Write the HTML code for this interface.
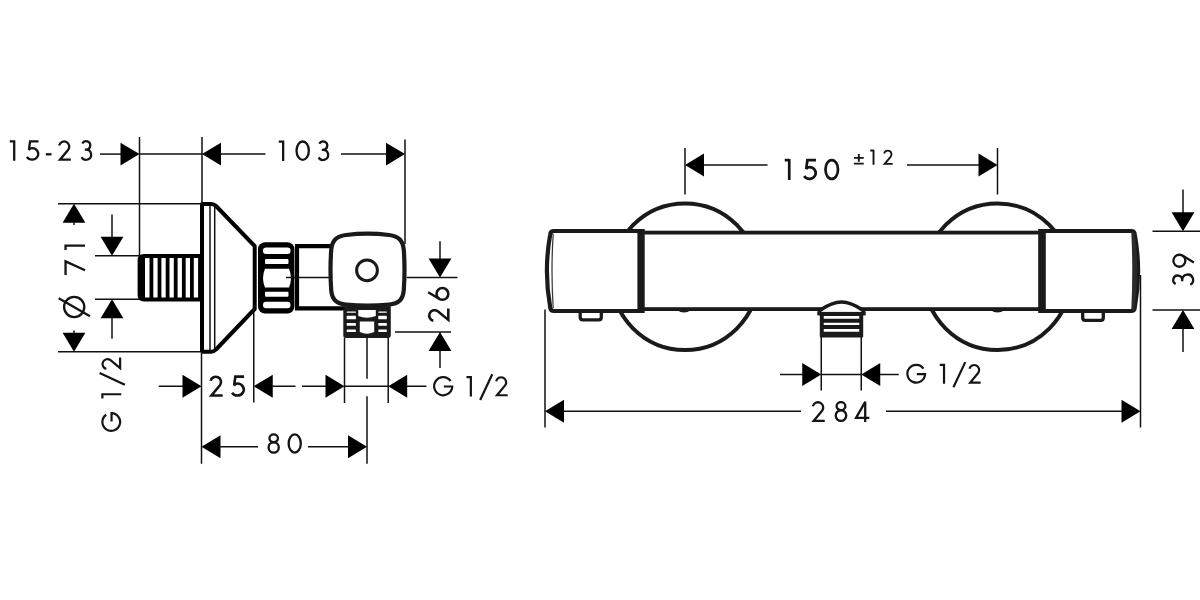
<!DOCTYPE html>
<html><head><meta charset="utf-8"><title>Dimension drawing</title>
<style>
html,body{margin:0;padding:0;background:#fff;}
body{width:1200px;height:600px;overflow:hidden;}
svg{display:block;}
text{font-family:"Liberation Sans",sans-serif;fill:#111;stroke:#fff;stroke-width:0.7px;}
</style></head><body>
<svg width="1200" height="600" viewBox="0 0 1200 600">
<rect width="1200" height="600" fill="#fff"/>
<line x1="139.5" y1="137" x2="139.5" y2="256" stroke="#111" stroke-width="1.5"/>
<line x1="202" y1="137" x2="202" y2="204" stroke="#111" stroke-width="1.5"/>
<line x1="405" y1="139.5" x2="405" y2="244" stroke="#111" stroke-width="1.5"/>
<line x1="100" y1="154.1" x2="122" y2="154.1" stroke="#111" stroke-width="1.5"/>
<polygon points="139.5,154.1 120.5,142.7 120.5,165.5" fill="#000"/>
<line x1="139.5" y1="154.1" x2="202" y2="154.1" stroke="#111" stroke-width="1.5"/>
<polygon points="202,154.1 221,142.7 221,165.5" fill="#000"/>
<line x1="220" y1="154.1" x2="265.5" y2="154.1" stroke="#111" stroke-width="1.5"/>
<line x1="341" y1="154.1" x2="387" y2="154.1" stroke="#111" stroke-width="1.5"/>
<polygon points="405,154.1 386,142.7 386,165.5" fill="#000"/>
<g transform="translate(9.8,160.8) scale(1.0000)" fill="none" stroke="#141414" stroke-width="2.300" stroke-miterlimit="3"><path d="M0,-19.45 H4.4 M4.4,-20.6 V0"/></g>
<g transform="translate(25.4,160.8) scale(1.0000)" fill="none" stroke="#141414" stroke-width="2.300" stroke-miterlimit="3"><path d="M13.1,-19.45 H4.7 L3.5,-10.8 C4.5,-12 5.6,-12.7 6.7,-12.7 A6.1,5.8 0 1 1 1.53,-3.83"/></g>
<g transform="translate(45.8,160.8) scale(1.0000)" fill="none" stroke="#141414" stroke-width="2.300" stroke-miterlimit="3"><path d="M0,-6.5 H5.7"/></g>
<g transform="translate(58,160.8) scale(1.0000)" fill="none" stroke="#141414" stroke-width="2.300" stroke-miterlimit="3"><path d="M1.2,-15.4 A5.1,5.1 0 1 1 10.2,-11.1 L2.0,-1.15 H12.8"/></g>
<g transform="translate(80,160.8) scale(1.0000)" fill="none" stroke="#141414" stroke-width="2.300" stroke-miterlimit="3"><path d="M2.3,-17.3 A4.2,4.2 0 1 1 6,-11.2 H4.8 M6,-11.2 A5.1,5.1 0 1 1 1.6,-3.6"/></g>
<g transform="translate(278.75,161) scale(1.0000)" fill="none" stroke="#141414" stroke-width="2.300" stroke-miterlimit="3"><path d="M0,-19.45 H4.4 M4.4,-20.6 V0"/></g>
<g transform="translate(295.4,161) scale(1.0000)" fill="none" stroke="#141414" stroke-width="2.300" stroke-miterlimit="3"><ellipse cx="7.3" cy="-10.3" rx="6.15" ry="9.2"/></g>
<g transform="translate(317,161) scale(1.0000)" fill="none" stroke="#141414" stroke-width="2.300" stroke-miterlimit="3"><path d="M2.3,-17.3 A4.2,4.2 0 1 1 6,-11.2 H4.8 M6,-11.2 A5.1,5.1 0 1 1 1.6,-3.6"/></g>
<line x1="58" y1="203.75" x2="202" y2="203.75" stroke="#111" stroke-width="1.5"/>
<line x1="58" y1="351.75" x2="202" y2="351.75" stroke="#111" stroke-width="1.5"/>
<polygon points="74,203.75 62.6,222.75 85.4,222.75" fill="#000"/>
<line x1="74" y1="222" x2="74" y2="225" stroke="#111" stroke-width="1.5"/>
<polygon points="74,351.75 62.6,332.75 85.4,332.75" fill="#000"/>
<line x1="74" y1="330.5" x2="74" y2="334" stroke="#111" stroke-width="1.5"/>
<line x1="95" y1="255.75" x2="139" y2="255.75" stroke="#111" stroke-width="1.5"/>
<line x1="95" y1="299.25" x2="139" y2="299.25" stroke="#111" stroke-width="1.5"/>
<line x1="112" y1="214.5" x2="112" y2="238" stroke="#111" stroke-width="1.5"/>
<polygon points="112,255.75 100.6,236.75 123.4,236.75" fill="#000"/>
<polygon points="112,299.25 100.6,318.25 123.4,318.25" fill="#000"/>
<line x1="112" y1="317" x2="112" y2="338.75" stroke="#111" stroke-width="1.5"/>
<g transform="translate(85,318) rotate(-90) scale(1.0000)" fill="none" stroke="#141414" stroke-width="2.300" stroke-miterlimit="3"><circle cx="11" cy="-10.8" r="10.1"/><path d="M1.7,5 L19.7,-26.3"/></g>
<g transform="translate(85,274.9) rotate(-90) scale(1.0000)" fill="none" stroke="#141414" stroke-width="2.300" stroke-miterlimit="3"><path d="M0,-19.45 H13.5 L4.6,0"/></g>
<g transform="translate(85,250) rotate(-90) scale(1.0000)" fill="none" stroke="#141414" stroke-width="2.300" stroke-miterlimit="3"><path d="M0,-19.45 H4.4 M4.4,-20.6 V0"/></g>
<g transform="translate(121.25,432) rotate(-90) scale(0.9700)" fill="none" stroke="#141414" stroke-width="2.268" stroke-miterlimit="3"><path d="M17.8,-15.55 A9.15,9.15 0 1 0 19.45,-10 H10.9"/></g>
<g transform="translate(121.25,398.5) rotate(-90) scale(0.9700)" fill="none" stroke="#141414" stroke-width="2.268" stroke-miterlimit="3"><path d="M0,-19.45 H4.4 M4.4,-20.6 V0"/></g>
<g transform="translate(121.25,385.6) rotate(-90) scale(0.9700)" fill="none" stroke="#141414" stroke-width="2.268" stroke-miterlimit="3"><path d="M0.8,3.7 L13.0,-22.3"/></g>
<g transform="translate(121.25,370) rotate(-90) scale(0.9700)" fill="none" stroke="#141414" stroke-width="2.268" stroke-miterlimit="3"><path d="M1.2,-15.4 A5.1,5.1 0 1 1 10.2,-11.1 L2.0,-1.15 H12.8"/></g>
<path d="M202,256 H144 Q139.5,256 139.5,260.5 V295 Q139.5,299.5 144,299.5 H202" fill="#fff" stroke="#000" stroke-width="3.8"/>
<rect x="139" y="257" width="6" height="41" fill="#000"/>
<rect x="149.50" y="257" width="3.8" height="41.5" fill="#000"/>
<rect x="157.60" y="257" width="3.8" height="41.5" fill="#000"/>
<rect x="165.70" y="257" width="3.8" height="41.5" fill="#000"/>
<rect x="173.80" y="257" width="3.8" height="41.5" fill="#000"/>
<rect x="181.90" y="257" width="3.8" height="41.5" fill="#000"/>
<rect x="190.00" y="257" width="3.8" height="41.5" fill="#000"/>
<rect x="198.10" y="257" width="3.8" height="41.5" fill="#000"/>
<path d="M202,352 V203.9 H211 Q214,203.9 216,206 L254.7,246 V309 L216,349.5 Q214,351.7 211,351.7 H202" fill="none" stroke="#000" stroke-width="4.0" stroke-linejoin="round"/>
<line x1="210" y1="205" x2="210" y2="351" stroke="#111" stroke-width="1.5"/>
<line x1="214.7" y1="206" x2="214.7" y2="350" stroke="#111" stroke-width="1.5"/>
<rect x="258" y="242.3" width="36.4" height="71.2" rx="7" fill="#000"/>
<rect x="263" y="247.5" width="27.5" height="6.5" rx="3" fill="#fff"/>
<rect x="265" y="259" width="23.5" height="5" rx="1" fill="#fff"/>
<path d="M265,268.7 H289 Q293,278 289,287.5 H265 Q261,278 265,268.7 Z" fill="#fff"/>
<rect x="265" y="291.7" width="23.5" height="5" rx="1" fill="#fff"/>
<rect x="263" y="301.7" width="27.5" height="6.5" rx="3" fill="#fff"/>
<path d="M333,246.2 H297 V308.4 H345" fill="none" stroke="#000" stroke-width="4.2"/>
<line x1="286" y1="277.5" x2="329" y2="277.5" stroke="#111" stroke-width="1.5"/>
<path d="M343.3,306.3 H390.8 V335.3 Q390.8,337.9 388,337.9 H346 Q343.3,337.9 343.3,335.3 Z" fill="#1a1a1a"/>
<rect x="346.7" y="311.5" width="9.2" height="1.1999999999999886" rx="0.5" fill="#fff"/>
<rect x="378.3" y="311.5" width="8.5" height="1.1999999999999886" rx="0.5" fill="#fff"/>
<rect x="346.7" y="315.8" width="9.2" height="3.3999999999999773" rx="0.5" fill="#fff"/>
<rect x="378.3" y="315.8" width="8.5" height="3.3999999999999773" rx="0.5" fill="#fff"/>
<rect x="346.7" y="323" width="9.2" height="2.8000000000000114" rx="0.5" fill="#fff"/>
<rect x="378.3" y="323" width="8.5" height="2.8000000000000114" rx="0.5" fill="#fff"/>
<rect x="346.7" y="329.5" width="9.2" height="2.5" rx="0.5" fill="#fff"/>
<rect x="378.3" y="329.5" width="8.5" height="2.5" rx="0.5" fill="#fff"/>
<path d="M358.3,310 H375.8 V316 Q367,319.5 358.3,316 Z" fill="#fff"/>
<path d="M359.8,321.4 H374.2 V332 Q367,335.4 359.8,332 Z" fill="#fff"/>
<path d="M346,235 Q367.5,232.4 389,235 C399,236.3 403,240.5 403.8,250 Q405.2,270 403.8,290 C403,299.5 399,303.6 389,304.6 Q367.5,306.6 346,304.6 C336,303.6 332,299.5 331.2,290 Q329.8,270 331.2,250 C332,240.5 336,236.3 346,235 Z" fill="#fff" stroke="#1a1a1a" stroke-width="4.2"/>
<circle cx="367" cy="270.3" r="10.4" fill="none" stroke="#1a1a1a" stroke-width="3"/>
<line x1="406.7" y1="277.5" x2="457.5" y2="277.5" stroke="#111" stroke-width="1.5"/>
<line x1="440" y1="241.25" x2="440" y2="260" stroke="#111" stroke-width="1.5"/>
<polygon points="440,277.5 428.6,258.5 451.4,258.5" fill="#000"/>
<line x1="395" y1="332" x2="451" y2="332" stroke="#111" stroke-width="1.5"/>
<polygon points="440,332 428.6,351 451.4,351" fill="#000"/>
<line x1="440" y1="350" x2="440" y2="368" stroke="#111" stroke-width="1.5"/>
<g transform="translate(449.5,322) rotate(-90) scale(1.0500)" fill="none" stroke="#141414" stroke-width="2.429" stroke-miterlimit="3"><path d="M1.2,-15.4 A5.1,5.1 0 1 1 10.2,-11.1 L2.0,-1.15 H12.8"/></g>
<g transform="translate(449.5,301.5) rotate(-90) scale(1.0500)" fill="none" stroke="#141414" stroke-width="2.429" stroke-miterlimit="3"><path d="M8.8,-20.3 L2.4,-9.55"/><circle cx="7.25" cy="-6.75" r="5.6"/></g>
<line x1="344.5" y1="337.5" x2="344.5" y2="403" stroke="#111" stroke-width="1.5"/>
<line x1="388.2" y1="337.5" x2="388.2" y2="403" stroke="#111" stroke-width="1.5"/>
<line x1="367" y1="337.5" x2="367" y2="378.75" stroke="#111" stroke-width="1.5"/>
<line x1="367" y1="396.25" x2="367" y2="463.75" stroke="#111" stroke-width="1.5"/>
<line x1="253.75" y1="309" x2="253.75" y2="402.5" stroke="#111" stroke-width="1.5"/>
<line x1="201.5" y1="352" x2="201.5" y2="463.75" stroke="#111" stroke-width="1.5"/>
<line x1="158.75" y1="386.25" x2="183" y2="386.25" stroke="#111" stroke-width="1.5"/>
<polygon points="201.5,386.25 182.5,374.85 182.5,397.65" fill="#000"/>
<polygon points="253.75,386.25 272.75,374.85 272.75,397.65" fill="#000"/>
<line x1="272" y1="386.25" x2="295.5" y2="386.25" stroke="#111" stroke-width="1.5"/>
<line x1="302" y1="386.25" x2="327" y2="386.25" stroke="#111" stroke-width="1.5"/>
<polygon points="344.5,386.25 325.5,374.85 325.5,397.65" fill="#000"/>
<line x1="344.5" y1="386.25" x2="388.2" y2="386.25" stroke="#111" stroke-width="1.5"/>
<polygon points="388.2,386.25 407.2,374.85 407.2,397.65" fill="#000"/>
<line x1="406" y1="386.25" x2="426.4" y2="386.25" stroke="#111" stroke-width="1.5"/>
<g transform="translate(209.4,396.7) scale(1.0340)" fill="none" stroke="#141414" stroke-width="2.515" stroke-miterlimit="3"><path d="M1.2,-15.4 A5.1,5.1 0 1 1 10.2,-11.1 L2.0,-1.15 H12.8"/></g>
<g transform="translate(230.5,396.7) scale(1.0340)" fill="none" stroke="#141414" stroke-width="2.515" stroke-miterlimit="3"><path d="M13.1,-19.45 H4.7 L3.5,-10.8 C4.5,-12 5.6,-12.7 6.7,-12.7 A6.1,5.8 0 1 1 1.53,-3.83"/></g>
<g transform="translate(433,396.4) scale(0.9900)" fill="none" stroke="#141414" stroke-width="2.222" stroke-miterlimit="3"><path d="M17.8,-15.55 A9.15,9.15 0 1 0 19.45,-10 H10.9"/></g>
<g transform="translate(466.5,396.4) scale(0.9900)" fill="none" stroke="#141414" stroke-width="2.222" stroke-miterlimit="3"><path d="M0,-19.45 H4.4 M4.4,-20.6 V0"/></g>
<g transform="translate(479.4,396.4) scale(0.9900)" fill="none" stroke="#141414" stroke-width="2.222" stroke-miterlimit="3"><path d="M0.8,3.7 L13.0,-22.3"/></g>
<g transform="translate(495,396.4) scale(0.9900)" fill="none" stroke="#141414" stroke-width="2.222" stroke-miterlimit="3"><path d="M1.2,-15.4 A5.1,5.1 0 1 1 10.2,-11.1 L2.0,-1.15 H12.8"/></g>
<polygon points="201.5,446.75 220.5,435.35 220.5,458.15" fill="#000"/>
<line x1="219" y1="446.75" x2="258" y2="446.75" stroke="#111" stroke-width="1.5"/>
<line x1="308" y1="446.75" x2="349" y2="446.75" stroke="#111" stroke-width="1.5"/>
<polygon points="367,446.75 348,435.35 348,458.15" fill="#000"/>
<g transform="translate(267.5,453.7) scale(0.9900)" fill="none" stroke="#141414" stroke-width="2.323" stroke-miterlimit="3"><ellipse cx="6.25" cy="-15.55" rx="4.3" ry="3.9"/><ellipse cx="6.25" cy="-6.3" rx="5.15" ry="5.2"/></g>
<g transform="translate(287.5,453.7) scale(0.9900)" fill="none" stroke="#141414" stroke-width="2.323" stroke-miterlimit="3"><ellipse cx="7.3" cy="-10.3" rx="6.15" ry="9.2"/></g>
<circle cx="685" cy="276.75" r="73.25" fill="none" stroke="#1a1a1a" stroke-width="4"/>
<circle cx="997.5" cy="276.75" r="73.25" fill="none" stroke="#1a1a1a" stroke-width="4"/>
<rect x="641" y="232.6" width="402" height="76.5" fill="#fff" stroke="#1a1a1a" stroke-width="3.8"/>
<path d="M675.5,309 Q684,316 692.5,309 Z" fill="#1a1a1a"/>
<path d="M989,309 Q997.5,316 1006,309 Z" fill="#1a1a1a"/>
<path d="M554,231 H641.5 V311 H554 Q550.5,311 550.2,307.5 Q543.6,271 550.2,234.5 Q550.5,231 554,231 Z" fill="#fff" stroke="#1a1a1a" stroke-width="4.2" stroke-linejoin="round"/>
<path d="M553.2,234 Q550.8,271 553.2,308" fill="none" stroke="#333" stroke-width="1.2"/>
<rect x="637.4" y="229" width="7.3" height="84" fill="#1a1a1a"/>
<path d="M1131,231 H1041.5 V311 H1131 Q1134.5,311 1134.8,307.5 Q1141.4,271 1134.8,234.5 Q1134.5,231 1131,231 Z" fill="#fff" stroke="#1a1a1a" stroke-width="4.2" stroke-linejoin="round"/>
<path d="M1131.3,232 Q1133.2,271 1131.3,310 L1134.5,310 Q1139.5,271 1134.5,232 Z" fill="#2a2a2a"/>
<rect x="1038.2" y="229" width="7.6" height="84" fill="#1a1a1a"/>
<path d="M580.2,312 V317.3 Q580.2,319.9 582.8,319.9 H598.7 Q601.3,319.9 601.3,317.3 V312" fill="none" stroke="#1a1a1a" stroke-width="3.3"/>
<path d="M1082.7,312 V317.8 Q1082.7,320.4 1085.3,320.4 H1100.7 Q1103.3,320.4 1103.3,317.8 V312" fill="none" stroke="#1a1a1a" stroke-width="3.3"/>
<path d="M818.8,312.6 L820,310.4 C829,304.2 836,302.1 841.5,302.1 C847,302.1 854,304.2 863,310.4 L864.2,312.6 Z" fill="#fff" stroke="none"/>
<path d="M818.9,312.6 L820.2,310.3 C829,304.2 836,302.1 841.5,302.1 C847,302.1 854,304.2 862.8,310.3 L864.1,312.6" fill="none" stroke="#1a1a1a" stroke-width="3.5" stroke-linejoin="round"/>
<rect x="817.3" y="311.9" width="48.4" height="3.5" fill="#1a1a1a"/>
<rect x="819.8" y="313" width="43.4" height="24.5" rx="1" fill="#1a1a1a"/>
<rect x="823.75" y="316" width="35.5" height="2.75" rx="0.5" fill="#fff"/>
<rect x="823.75" y="322.7" width="35.5" height="2.400000000000034" rx="0.5" fill="#fff"/>
<rect x="823.75" y="329" width="35.5" height="2.8000000000000114" rx="0.5" fill="#fff"/>
<line x1="685" y1="148" x2="685" y2="194.5" stroke="#111" stroke-width="1.5"/>
<line x1="997.5" y1="148" x2="997.5" y2="194.5" stroke="#111" stroke-width="1.5"/>
<polygon points="685,165 704,153.6 704,176.4" fill="#000"/>
<line x1="703" y1="165" x2="767.5" y2="165" stroke="#111" stroke-width="1.5"/>
<line x1="907" y1="165" x2="980" y2="165" stroke="#111" stroke-width="1.5"/>
<polygon points="997.5,165 978.5,153.6 978.5,176.4" fill="#000"/>
<g transform="translate(784.75,180) scale(1.0200)" fill="none" stroke="#141414" stroke-width="2.647" stroke-miterlimit="3"><path d="M0,-19.45 H4.4 M4.4,-20.6 V0"/></g>
<g transform="translate(802.6,180) scale(1.0200)" fill="none" stroke="#141414" stroke-width="2.647" stroke-miterlimit="3"><path d="M13.1,-19.45 H4.7 L3.5,-10.8 C4.5,-12 5.6,-12.7 6.7,-12.7 A6.1,5.8 0 1 1 1.53,-3.83"/></g>
<g transform="translate(824.3,180) scale(1.0200)" fill="none" stroke="#141414" stroke-width="2.647" stroke-miterlimit="3"><ellipse cx="7.3" cy="-10.3" rx="6.15" ry="9.2"/></g>
<g transform="translate(853.9,164.7) scale(0.7300)" fill="none" stroke="#141414" stroke-width="2.603" stroke-miterlimit="3"><path d="M0,-9.3 H13.5 M6.75,-14.6 V-4.1 M0,-1.5 H13.5"/></g>
<g transform="translate(870.3,164.7) scale(0.7300)" fill="none" stroke="#141414" stroke-width="2.603" stroke-miterlimit="3"><path d="M0,-19.45 H4.4 M4.4,-20.6 V0"/></g>
<g transform="translate(883.3,164.7) scale(0.7300)" fill="none" stroke="#141414" stroke-width="2.603" stroke-miterlimit="3"><path d="M1.2,-15.4 A5.1,5.1 0 1 1 10.2,-11.1 L2.0,-1.15 H12.8"/></g>
<line x1="1183" y1="189.5" x2="1183" y2="213" stroke="#111" stroke-width="1.5"/>
<polygon points="1183,231.25 1171.6,212.25 1194.4,212.25" fill="#000"/>
<line x1="1152.5" y1="231.25" x2="1200" y2="231.25" stroke="#111" stroke-width="1.5"/>
<line x1="1152.5" y1="310" x2="1200" y2="310" stroke="#111" stroke-width="1.5"/>
<polygon points="1183,310 1171.6,329 1194.4,329" fill="#000"/>
<line x1="1183" y1="328" x2="1183" y2="352" stroke="#111" stroke-width="1.5"/>
<g transform="translate(1194.2,286.5) rotate(-90) scale(1.0700)" fill="none" stroke="#141414" stroke-width="2.150" stroke-miterlimit="3"><path d="M2.3,-17.3 A4.2,4.2 0 1 1 6,-11.2 H4.8 M6,-11.2 A5.1,5.1 0 1 1 1.6,-3.6"/></g>
<g transform="translate(1194.2,268.5) rotate(-90) scale(1.0700)" fill="none" stroke="#141414" stroke-width="2.150" stroke-miterlimit="3"><circle cx="7.25" cy="-13.85" r="5.6"/><path d="M12.1,-11.05 L5.7,-0.3"/></g>
<line x1="545" y1="309.5" x2="545" y2="427.5" stroke="#111" stroke-width="1.5"/>
<line x1="1140.5" y1="275" x2="1140.5" y2="427.5" stroke="#111" stroke-width="1.5"/>
<polygon points="545,411.25 564,399.85 564,422.65" fill="#000"/>
<line x1="563" y1="411.25" x2="801" y2="411.25" stroke="#111" stroke-width="1.5"/>
<line x1="886" y1="411.25" x2="1122" y2="411.25" stroke="#111" stroke-width="1.5"/>
<polygon points="1140.5,411.25 1121.5,399.85 1121.5,422.65" fill="#000"/>
<g transform="translate(811.7,422) scale(1.0200)" fill="none" stroke="#141414" stroke-width="2.255" stroke-miterlimit="3"><path d="M1.2,-15.4 A5.1,5.1 0 1 1 10.2,-11.1 L2.0,-1.15 H12.8"/></g>
<g transform="translate(834.6,422) scale(1.0200)" fill="none" stroke="#141414" stroke-width="2.255" stroke-miterlimit="3"><ellipse cx="6.25" cy="-15.55" rx="4.3" ry="3.9"/><ellipse cx="6.25" cy="-6.3" rx="5.15" ry="5.2"/></g>
<g transform="translate(854,422) scale(1.0200)" fill="none" stroke="#141414" stroke-width="2.255" stroke-miterlimit="3"><path d="M11,0 V-19.8 L2.0,-4.1 H15"/></g>
<line x1="821.25" y1="337" x2="821.25" y2="390.5" stroke="#111" stroke-width="1.5"/>
<line x1="861.25" y1="337" x2="861.25" y2="390.5" stroke="#111" stroke-width="1.5"/>
<line x1="780" y1="374.5" x2="803" y2="374.5" stroke="#111" stroke-width="1.5"/>
<polygon points="821.25,374.5 802.25,363.1 802.25,385.9" fill="#000"/>
<line x1="821.25" y1="374.5" x2="861.25" y2="374.5" stroke="#111" stroke-width="1.5"/>
<polygon points="861.25,374.5 880.25,363.1 880.25,385.9" fill="#000"/>
<line x1="879.5" y1="374.5" x2="898.75" y2="374.5" stroke="#111" stroke-width="1.5"/>
<g transform="translate(906.25,383.75) scale(0.9700)" fill="none" stroke="#141414" stroke-width="2.268" stroke-miterlimit="3"><path d="M17.8,-15.55 A9.15,9.15 0 1 0 19.45,-10 H10.9"/></g>
<g transform="translate(939.75,383.75) scale(0.9700)" fill="none" stroke="#141414" stroke-width="2.268" stroke-miterlimit="3"><path d="M0,-19.45 H4.4 M4.4,-20.6 V0"/></g>
<g transform="translate(952.65,383.75) scale(0.9700)" fill="none" stroke="#141414" stroke-width="2.268" stroke-miterlimit="3"><path d="M0.8,3.7 L13.0,-22.3"/></g>
<g transform="translate(968.25,383.75) scale(0.9700)" fill="none" stroke="#141414" stroke-width="2.268" stroke-miterlimit="3"><path d="M1.2,-15.4 A5.1,5.1 0 1 1 10.2,-11.1 L2.0,-1.15 H12.8"/></g>
</svg>
</body></html>
